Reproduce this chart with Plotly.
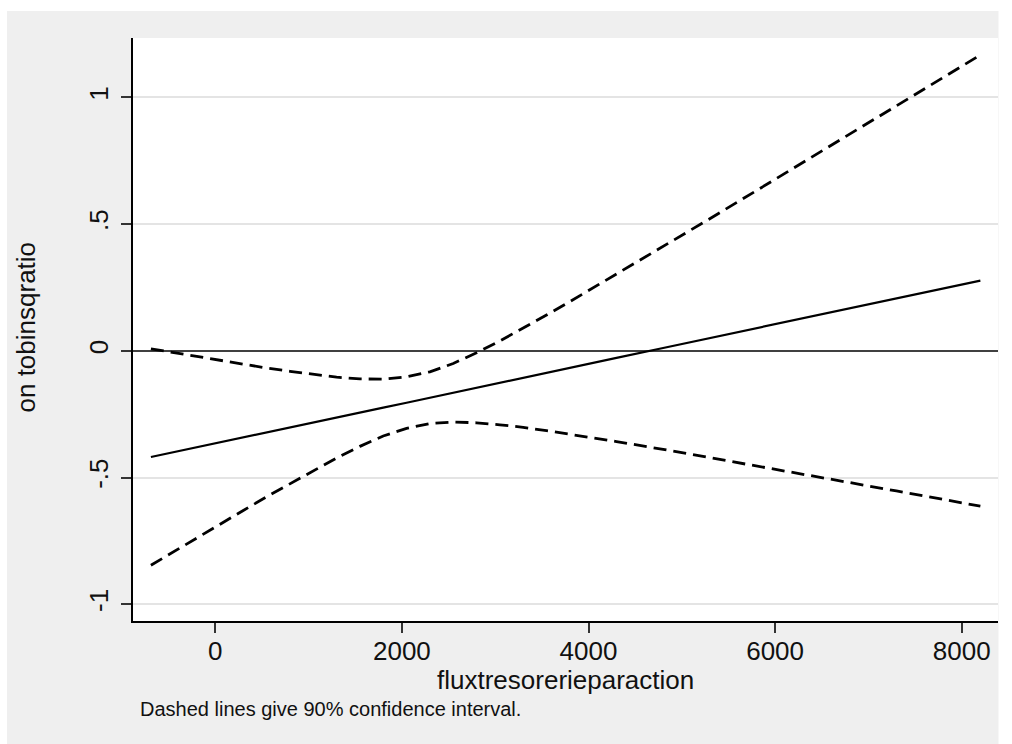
import plotly.graph_objects as go

# Data
x_vals = [-690, -450, -200, 50, 300, 550, 800, 1050, 1300, 1550, 1800, 2050,
          2300, 2550, 2800, 3050, 3300, 3550, 3800, 4300, 4800, 5300, 5800,
          6300, 6800, 7300, 7800, 8200]
marginal_effect = [-0.419, -0.400, -0.381, -0.361, -0.342, -0.322, -0.302,
                   -0.283, -0.263, -0.244, -0.224, -0.205, -0.185, -0.165,
                   -0.146, -0.126, -0.107, -0.087, -0.068, -0.028, 0.011,
                   0.050, 0.089, 0.128, 0.167, 0.207, 0.246, 0.277]
upper_ci = [0.008, -0.007, -0.023, -0.038, -0.053, -0.068, -0.081, -0.093,
            -0.104, -0.111, -0.112, -0.103, -0.083, -0.050, -0.008, 0.039,
            0.089, 0.141, 0.194, 0.302, 0.411, 0.521, 0.632, 0.743, 0.855,
            0.966, 1.078, 1.167]
lower_ci = [-0.846, -0.793, -0.739, -0.684, -0.630, -0.576, -0.524, -0.472,
            -0.423, -0.377, -0.336, -0.306, -0.287, -0.281, -0.284, -0.292,
            -0.302, -0.315, -0.329, -0.358, -0.389, -0.421, -0.454, -0.487,
            -0.520, -0.553, -0.586, -0.613]

y_tickvals = [-1, -0.5, 0, 0.5, 1]
y_ticktext = ["-1", "-.5", "0", ".5", "1"]
x_tickvals = [0, 2000, 4000, 6000, 8000]
x_ticktext = ["0", "2000", "4000", "6000", "8000"]

x_title = "fluxtresorerieparaction"
y_title = "on tobinsqratio"
note = "Dashed lines give 90% confidence interval."

FONT = "Liberation Sans, Arial, sans-serif"
FS = 26
W, H = 1012, 744
L, R, T, B = 133, 14, 38, 123
PW, PH = W - L - R, H - T - B

def px_x(px):
    return (px - L) / PW

def px_y(py):
    return (H - B - py) / PH

fig = go.Figure()
fig.add_trace(go.Scatter(x=x_vals, y=marginal_effect, mode="lines",
                         line=dict(color="black", width=2.2), showlegend=False))
fig.add_trace(go.Scatter(x=x_vals, y=upper_ci, mode="lines",
                         line=dict(color="black", width=2.8, dash="13px,7px"),
                         showlegend=False))
fig.add_trace(go.Scatter(x=x_vals, y=lower_ci, mode="lines",
                         line=dict(color="black", width=2.8, dash="13px,7px"),
                         showlegend=False))

fig.update_layout(
    width=W, height=H,
    margin=dict(l=L, r=R, t=T, b=B, pad=0),
    paper_bgcolor="#efefef",
    plot_bgcolor="white",
    font=dict(family=FONT, size=FS, color="#111111"),
    xaxis=dict(
        range=[-882, 8389], showgrid=False, zeroline=False,
        showline=True, linecolor="black", linewidth=1.5,
        ticks="outside", ticklen=10, tickwidth=1.5, tickcolor="#333333",
        tickvals=x_tickvals, ticktext=x_ticktext, ticklabelstandoff=-4,
        tickfont=dict(size=FS, family=FONT, color="#111111"),
    ),
    yaxis=dict(
        range=[-1.066, 1.234], showgrid=True, gridcolor="#e4e4e4", gridwidth=2,
        zeroline=True, zerolinecolor="#404040", zerolinewidth=2,
        showline=True, linecolor="black", linewidth=1.5,
        ticks="outside", ticklen=10, tickwidth=1.5, tickcolor="#333333",
        tickvals=y_tickvals, ticktext=y_ticktext, tickangle=-90,
        ticklabelstandoff=3,
        tickfont=dict(size=FS, family=FONT, color="#111111"),
    ),
    shapes=[
        dict(type="rect", xref="paper", yref="paper", layer="above",
             x0=px_x(-5), x1=px_x(7), y0=px_y(760), y1=px_y(-5),
             fillcolor="white", line=dict(width=0)),
        dict(type="rect", xref="paper", yref="paper", layer="above",
             x0=px_x(-5), x1=px_x(1020), y0=px_y(11), y1=px_y(-5),
             fillcolor="white", line=dict(width=0)),
        dict(type="rect", xref="paper", yref="paper", layer="above",
             x0=px_x(998.5), x1=px_x(1020), y0=px_y(760), y1=px_y(-5),
             fillcolor="white", line=dict(width=0)),
    ],
    annotations=[
        dict(text=x_title, xref="paper", yref="paper", x=0.5, y=px_y(680),
             xanchor="center", yanchor="middle", showarrow=False,
             font=dict(size=FS, family=FONT, color="#111111")),
        dict(text=y_title, xref="paper", yref="paper", x=px_x(25), y=px_y(327.5),
             xanchor="center", yanchor="middle", showarrow=False, textangle=-90,
             font=dict(size=FS, family=FONT, color="#111111")),
        dict(text=note, xref="paper", yref="paper", x=px_x(138), y=px_y(709),
             xanchor="left", yanchor="middle", showarrow=False,
             font=dict(size=20, family=FONT, color="#111111")),
    ],
)

fig.write_html("out.html")
